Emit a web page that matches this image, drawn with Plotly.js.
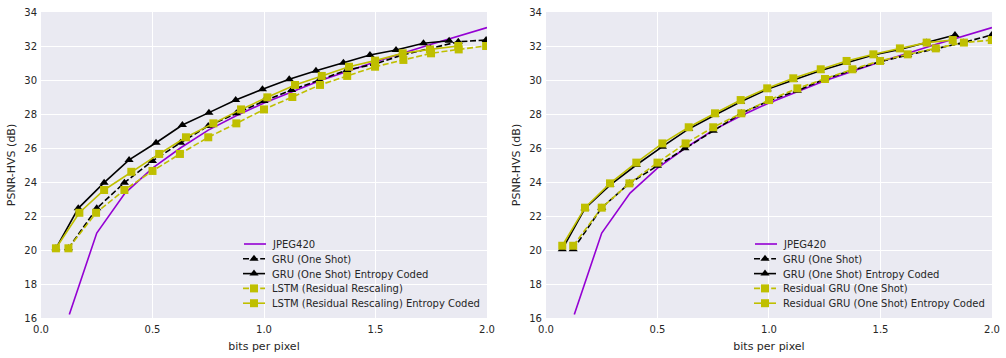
<!DOCTYPE html>
<html>
<head>
<meta charset="utf-8">
<script src="https://cdn.plot.ly/plotly-3.0.1.min.js"></script>
<style>
html,body{margin:0;padding:0;background:#fff;}
#chart{width:1006px;height:358px;}
</style>
</head>
<body>
<div id="chart"></div>
<script>
// JPEG420 (same in both panels)
const jpegX = [0.127, 0.25, 0.377, 0.5, 0.625, 0.75, 0.875, 1.0, 1.25, 1.5, 1.75, 2.0];
const jpegY = [16.2, 21.0, 23.35, 24.82, 26.0, 27.05, 27.9, 28.65, 29.95, 31.08, 32.1, 33.08];

// Left panel
const leftGruX = [0.123, 0.25, 0.374, 0.5, 0.626, 0.75, 0.876, 1.0, 1.124, 1.248, 1.372, 1.498, 1.62, 1.746, 1.871, 1.996];
const leftGruY = [20.1, 22.45, 23.96, 25.24, 26.31, 27.3, 28.04, 28.76, 29.41, 30.0, 30.59, 30.94, 31.47, 31.86, 32.25, 32.35];
const leftGruEcX = [0.067, 0.167, 0.283, 0.395, 0.516, 0.634, 0.753, 0.873, 0.993, 1.113, 1.233, 1.356, 1.475, 1.592, 1.715, 1.83];
const leftGruEcY = [20.1, 22.45, 23.96, 25.3, 26.31, 27.35, 28.08, 28.82, 29.45, 30.04, 30.55, 31.02, 31.47, 31.76, 32.16, 32.31];
const lstmX = [0.123, 0.247, 0.374, 0.5, 0.623, 0.75, 0.876, 1.0, 1.127, 1.251, 1.373, 1.498, 1.625, 1.749, 1.873, 1.996];
const lstmY = [20.1, 22.19, 23.53, 24.65, 25.65, 26.63, 27.45, 28.27, 29.0, 29.71, 30.24, 30.78, 31.18, 31.57, 31.8, 32.0];
const lstmEcX = [0.067, 0.172, 0.283, 0.405, 0.53, 0.65, 0.773, 0.897, 1.015, 1.139, 1.259, 1.381, 1.498, 1.622, 1.744, 1.871];
const lstmEcY = [20.1, 22.19, 23.53, 24.6, 25.65, 26.63, 27.45, 28.27, 28.98, 29.71, 30.24, 30.78, 31.14, 31.57, 31.8, 32.0];

// Right panel
const rightGruX = [0.122, 0.25, 0.374, 0.5, 0.623, 0.75, 0.876, 1.0, 1.127, 1.251, 1.374, 1.498, 1.622, 1.748, 1.871, 1.999];
const rightGruY = [20.04, 22.49, 23.92, 24.96, 25.98, 27.02, 28.04, 28.78, 29.37, 30.06, 30.59, 31.08, 31.47, 31.86, 32.2, 32.65];
const rightGruEcX = [0.073, 0.175, 0.287, 0.405, 0.522, 0.64, 0.758, 0.873, 0.992, 1.109, 1.229, 1.348, 1.468, 1.587, 1.707, 1.834];
const rightGruEcY = [20.04, 22.45, 23.82, 25.0, 26.08, 27.12, 27.94, 28.72, 29.45, 30.0, 30.55, 31.02, 31.47, 31.8, 32.2, 32.65];
const resGruX = [0.122, 0.25, 0.374, 0.5, 0.626, 0.75, 0.876, 1.0, 1.127, 1.251, 1.374, 1.498, 1.622, 1.748, 1.874, 1.999];
const resGruY = [20.25, 22.49, 23.92, 25.14, 26.27, 27.22, 28.04, 28.82, 29.51, 30.06, 30.63, 31.12, 31.51, 31.86, 32.2, 32.35];
const resGruEcX = [0.073, 0.175, 0.287, 0.405, 0.522, 0.64, 0.758, 0.873, 0.992, 1.109, 1.232, 1.348, 1.468, 1.587, 1.707, 1.824];
const resGruEcY = [20.25, 22.49, 23.92, 25.14, 26.27, 27.22, 28.04, 28.82, 29.51, 30.1, 30.63, 31.12, 31.51, 31.86, 32.2, 32.35];

const xTicks = [0, 0.5, 1.0, 1.5, 2.0];
const xTickText = ["0.0", "0.5", "1.0", "1.5", "2.0"];
const yTicks = [16, 18, 20, 22, 24, 26, 28, 30, 32, 34];

const PURPLE = "#9400D3";
const YEL = "#BFBF00";
const DASH = "6px,2.6px";

function tr(x, y, name, color, dash, symbol, msize, xa, ya, lg) {
  const t = {x: x, y: y, name: name, type: "scatter", xaxis: xa, yaxis: ya, legend: lg,
    line: {color: color, width: 1.6, dash: dash}, mode: symbol ? "lines+markers" : "lines"};
  if (symbol) t.marker = {symbol: symbol, size: msize, color: color, line: {width: 0}};
  return t;
}

const data = [
  tr(jpegX, jpegY, "JPEG420", PURPLE, "solid", null, 0, "x", "y", "legend"),
  tr(leftGruX, leftGruY, "GRU (One Shot)", "#000000", DASH, "triangle-up", 8, "x", "y", "legend"),
  tr(leftGruEcX, leftGruEcY, "GRU (One Shot) Entropy Coded", "#000000", "solid", "triangle-up", 8, "x", "y", "legend"),
  tr(lstmX, lstmY, "LSTM (Residual Rescaling)", YEL, DASH, "square", 8, "x", "y", "legend"),
  tr(lstmEcX, lstmEcY, "LSTM (Residual Rescaling) Entropy Coded", YEL, "solid", "square", 8, "x", "y", "legend"),
  tr(jpegX, jpegY, "JPEG420", PURPLE, "solid", null, 0, "x2", "y2", "legend2"),
  tr(rightGruX, rightGruY, "GRU (One Shot)", "#000000", DASH, "triangle-up", 8, "x2", "y2", "legend2"),
  tr(rightGruEcX, rightGruEcY, "GRU (One Shot) Entropy Coded", "#000000", "solid", "triangle-up", 8, "x2", "y2", "legend2"),
  tr(resGruX, resGruY, "Residual GRU (One Shot)", YEL, DASH, "square", 8, "x2", "y2", "legend2"),
  tr(resGruEcX, resGruEcY, "Residual GRU (One Shot) Entropy Coded", YEL, "solid", "square", 8, "x2", "y2", "legend2")
];

const FONT = "DejaVu Sans, sans-serif";
const TXT = "#262626";
function xax(domain, anchor) {
  return {domain: domain, anchor: anchor, range: [0, 2], tickvals: xTicks, ticktext: xTickText,
    showgrid: true, gridcolor: "#ffffff", gridwidth: 1, zeroline: false, showline: false,
    ticks: "", ticklabelstandoff: 4, tickfont: {family: FONT, size: 10, color: TXT},
    title: {text: "bits per pixel", font: {family: FONT, size: 11, color: TXT}, standoff: 8}};
}
function yax(anchor) {
  return {anchor: anchor, range: [16, 34], tickvals: yTicks, showgrid: true, gridcolor: "#ffffff",
    gridwidth: 1, zeroline: false, showline: false, ticks: "", ticklabelstandoff: 3,
    tickfont: {family: FONT, size: 10, color: TXT},
    title: {text: "PSNR-HVS (dB)", font: {family: FONT, size: 11, color: TXT}, standoff: 6}};
}

const legendBase = {bgcolor: "rgba(0,0,0,0)", borderwidth: 0, font: {family: FONT, size: 10, color: TXT},
  xanchor: "left", yanchor: "bottom", y: 0.02, tracegroupgap: 0};

const layout = {
  width: 1006, height: 358,
  margin: {l: 41, r: 14, t: 12, b: 40, autoexpand: false},
  paper_bgcolor: "#ffffff", plot_bgcolor: "#EAEAF2",
  font: {family: FONT, color: TXT},
  xaxis: xax([0, 0.469], "y"),
  yaxis: yax("x"),
  xaxis2: xax([0.531, 1], "y2"),
  yaxis2: yax("x2"),
  legend: Object.assign({}, legendBase, {x: 0.199}),
  legend2: Object.assign({}, legendBase, {x: 0.737}),
  showlegend: true
};

function tuneLegends(gd) {
  gd.querySelectorAll(".infolayer .scrollbox, .infolayer .scrollbox *").forEach(function (e) {
    if (e.hasAttribute && e.hasAttribute("clip-path")) e.removeAttribute("clip-path");
  });
  const all = Array.prototype.slice.call(gd.querySelectorAll(".infolayer g.traces"));
  const counters = {L: 0, R: 0};
  all.forEach(function (t) {
    const txt = t.querySelector("text.legendtext, text.legend2text");
    if (!txt) return;
    t.querySelectorAll(".legendlines path, .legend2lines path").forEach(function (p) { p.setAttribute("d", "M11,0h22"); });
    t.querySelectorAll(".legendpoints path, .legend2points path").forEach(function (p) { p.setAttribute("transform", "translate(22,0)"); });
    const rT = txt.getBoundingClientRect();
    const side = rT.left < 503 ? "L" : "R";
    const i = counters[side]++;
    const targetX = side === "L" ? 272 : 783;
    const line = t.querySelector(".legendlines path, .legend2lines path");
    let cy;
    if (line) { const rL = line.getBoundingClientRect(); cy = rL.top + rL.height / 2; }
    else { cy = rT.top + rT.height / 2; }
    const dx = targetX - rT.left;
    const dy = (244 + i * 14.8) - cy;
    const m = /translate\(\s*([-\d.eE]+)[ ,]+([-\d.eE]+)\s*\)/.exec(t.getAttribute("transform") || "");
    const tx = m ? parseFloat(m[1]) : 0, ty = m ? parseFloat(m[2]) : 0;
    t.setAttribute("transform", "translate(" + (tx + dx) + "," + (ty + dy) + ")");
  });
}

Plotly.newPlot("chart", data, layout, {displayModeBar: false, responsive: false}).then(tuneLegends);
</script>
</body>
</html>
